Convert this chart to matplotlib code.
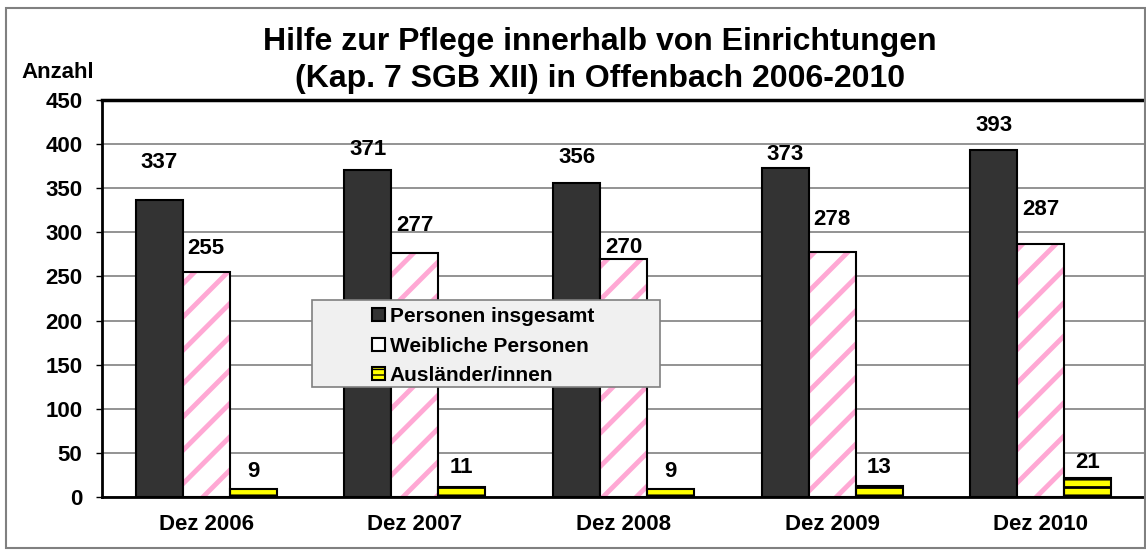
import numpy as np
import matplotlib
matplotlib.use('Agg')
import matplotlib.pyplot as plt
from matplotlib.patches import Rectangle, Patch

plt.rcParams['font.family'] = ['Liberation Sans', 'DejaVu Sans']
plt.rcParams['font.weight'] = 'bold'

years = ['Dez 2006', 'Dez 2007', 'Dez 2008', 'Dez 2009', 'Dez 2010']
gesamt = [337, 371, 356, 373, 393]
weiblich = [255, 277, 270, 278, 287]
auslaender = [9, 11, 9, 13, 21]
series_names = ['Personen insgesamt', 'Weibliche Personen', 'Ausländer/innen']

# label offsets above bar top, in pixels (as in the original)
off_g = [37, 20, 25, 13, 25]
off_w = [24, 27, 11, 32, 34]
off_a = [18, 20, 18, 18, 16]

fig = plt.figure(figsize=(11.46, 5.53), dpi=100)
ax = fig.add_axes([102/1146, 1-497/553, 1043/1146, 397/553])

x = np.arange(len(years))
w = 0.225

ax.bar(x - w, gesamt, w, color='#333333', edgecolor='black', linewidth=1.5, zorder=3)

with plt.rc_context({'hatch.linewidth': 3.5}):
    ax.bar(x, weiblich, w, color='white', edgecolor='#ffa8d4', hatch='/', linewidth=0, zorder=3)
ax.bar(x, weiblich, w, fill=False, edgecolor='black', linewidth=1.5, zorder=4)

with plt.rc_context({'hatch.linewidth': 2.0}):
    ax.bar(x + w, auslaender, w, color='#ffff00', edgecolor='black', hatch='--', linewidth=1.5, zorder=3)

for vals, offs, dx in [(gesamt, off_g, -w), (weiblich, off_w, 0), (auslaender, off_a, w)]:
    for i, v in enumerate(vals):
        ax.annotate(str(v), (x[i] + dx, v), xytext=(0, offs[i] * 0.72), textcoords='offset points',
                    ha='center', va='center', fontsize=16, fontweight='bold', zorder=6)

ax.set_xlim(-0.5, len(years) - 0.5)
ax.set_ylim(0, 450)
ax.set_yticks(np.arange(0, 451, 50))
ax.set_xticks(x)
ax.set_xticklabels(years)
ax.tick_params(axis='y', labelsize=16, length=4, width=1, pad=10)
ax.tick_params(axis='x', labelsize=16, length=0, pad=12)
ax.yaxis.grid(True, color='#808080', linewidth=1.2, zorder=0)
ax.set_axisbelow(True)
for s in ['left', 'bottom']:
    ax.spines[s].set_linewidth(2)
ax.spines['top'].set_linewidth(2.5)
ax.spines['right'].set_color('#808080')
ax.spines['right'].set_linewidth(1.2)

# legend box
ax.add_patch(Rectangle((0.201, 0.277), 0.334, 0.219, transform=ax.transAxes,
                       facecolor='#f0f0f0', edgecolor='#808080', linewidth=1.2, zorder=7))
handles = [Patch(facecolor='#333333', edgecolor='black', linewidth=1.5),
           Patch(facecolor='white', edgecolor='black', linewidth=1.5),
           Patch(facecolor='#ffff00', edgecolor='black', hatch='---', linewidth=1.5)]
leg = ax.legend(handles, series_names, loc='upper left', bbox_to_anchor=(0.243, 0.52),
                frameon=False, fontsize=15, handlelength=0.6, handleheight=0.6,
                handletextpad=0.25, labelspacing=0.5, borderpad=0.3)
leg.set_zorder(8)

fig.text(600/1146, 1-42/553, 'Hilfe zur Pflege innerhalb von Einrichtungen', ha='center', va='center',
         fontsize=23, fontweight='bold')
fig.text(600/1146, 1-79/553, '(Kap. 7 SGB XII) in Offenbach 2006-2010', ha='center', va='center',
         fontsize=23, fontweight='bold')
fig.text(58/1146, 1-73/553, 'Anzahl', ha='center', va='center', fontsize=16, fontweight='bold')

fig.patches.append(Rectangle((6/1146, 5/553), 1139/1146, 540/553, transform=fig.transFigure,
                             fill=False, edgecolor='#808080', linewidth=1.5))

fig.savefig('out.png', dpi=100)
